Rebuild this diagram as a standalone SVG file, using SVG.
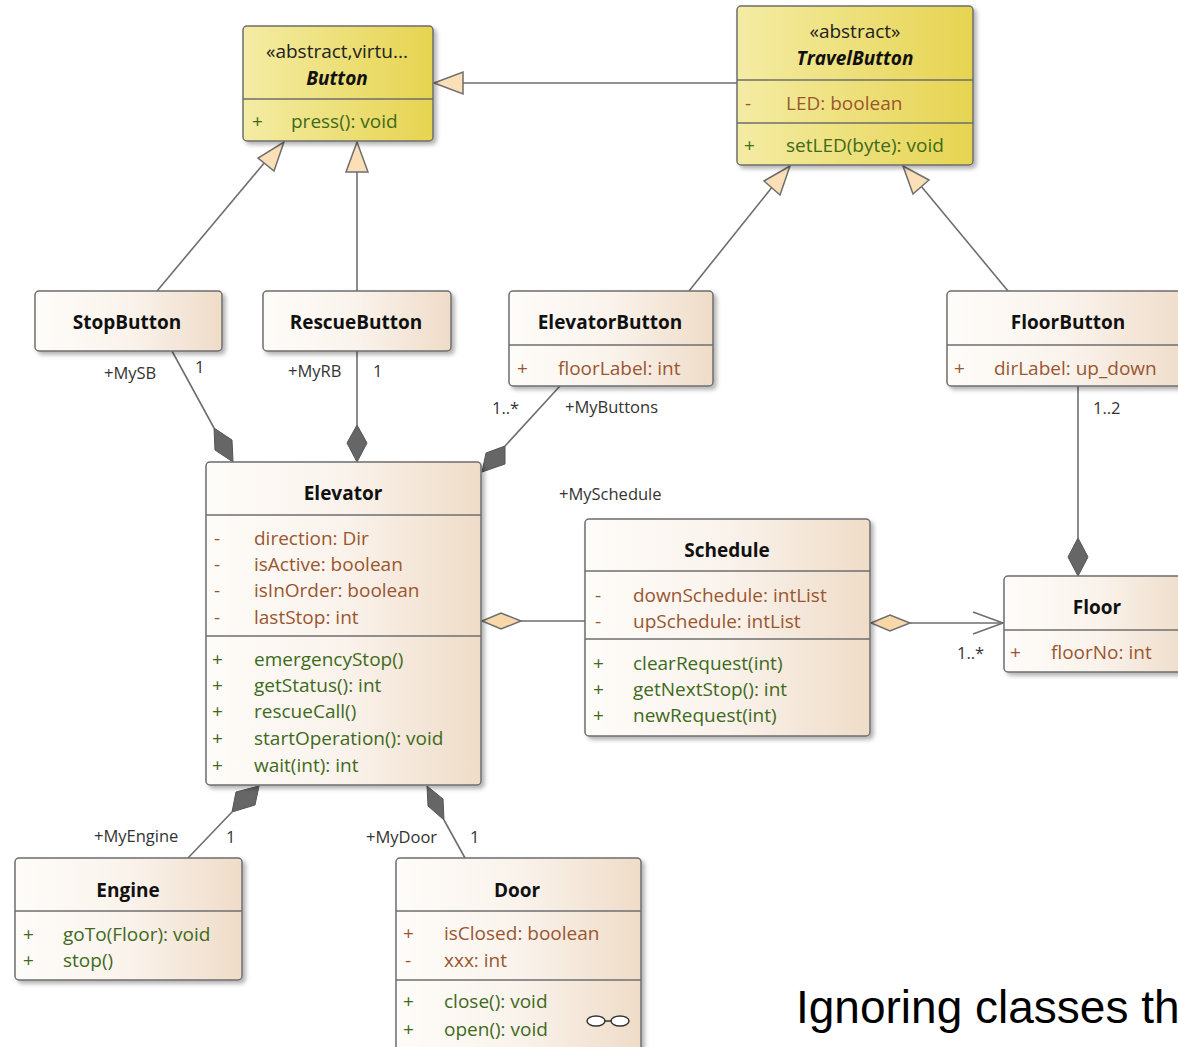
<svg xmlns="http://www.w3.org/2000/svg" width="1178" height="1047" viewBox="0 0 1178 1047">
  <style>
    .box { stroke: #6e6e6e; stroke-width: 1.5; filter: url(#shadow); }
    .cls { fill: url(#classFill); }
    .abs { fill: url(#absFill); }
    .sep { stroke: #6e6e6e; stroke-width: 1.5; }
    .title { font-family: "Open Sans", "Noto Sans", sans-serif; font-weight: bold; font-size: 19px; fill: #111; text-anchor: middle; }
    .stereo { font-family: "Open Sans", "Noto Sans", sans-serif; font-size: 19px; fill: #222; text-anchor: middle; }
    .attr { font-family: "Open Sans", "Noto Sans", sans-serif; font-size: 19px; fill: #9a5630; }
    .op { font-family: "Open Sans", "Noto Sans", sans-serif; font-size: 19px; fill: #3f6a1c; }
    .lbl { font-family: "Open Sans", "Noto Sans", sans-serif; font-size: 16.5px; fill: #333; }
    .edge { stroke: #6e6e6e; stroke-width: 1.6; fill: none; }
    .tri { fill: #fbdfb6; stroke: #6e6e6e; stroke-width: 1.5; }
    .dia { fill: #666; stroke: #555; stroke-width: 1; }
    .hdia { fill: #f8d8a8; stroke: #6e6e6e; stroke-width: 1.5; }
  </style>
  <defs>
    <linearGradient id="classFill" x1="0" y1="0" x2="1" y2="0">
      <stop offset="0" stop-color="#fefcf9"/>
      <stop offset="0.5" stop-color="#faf3ec"/>
      <stop offset="1" stop-color="#efdcc8"/>
    </linearGradient>
    <linearGradient id="absFill" x1="0" y1="0" x2="1" y2="0">
      <stop offset="0" stop-color="#f4eca4"/>
      <stop offset="1" stop-color="#e6d450"/>
    </linearGradient>
    <filter id="shadow" x="-5%" y="-5%" width="115%" height="120%">
      <feDropShadow dx="3" dy="3" stdDeviation="2" flood-color="#000" flood-opacity="0.3"/>
    </filter>
  </defs>

  <!-- connectors -->
  <g id="connectors">
    <!-- generalizations -->
    <line class="edge" x1="737" y1="83" x2="463" y2="83"/>
    <polygon class="tri" points="434,83 463,72 463,94"/>
    <line class="edge" x1="157" y1="291" x2="265" y2="162"/>
    <polygon class="tri" points="284,142 274,171 258,158"/>
    <line class="edge" x1="357" y1="291" x2="357" y2="172"/>
    <polygon class="tri" points="357,142 368,172 346,172"/>
    <line class="edge" x1="689" y1="291" x2="773" y2="186"/>
    <polygon class="tri" points="790,166 780,195 764,181"/>
    <line class="edge" x1="1008" y1="291" x2="921" y2="186"/>
    <polygon class="tri" points="903,166 929,180 913,194"/>

    <!-- compositions into Elevator -->
    <line class="edge" x1="172" y1="351" x2="214" y2="428"/>
    <polygon class="dia" points="233,462 232,440 214,428 215,450"/>
    <line class="edge" x1="357" y1="351" x2="357" y2="425"/>
    <polygon class="dia" points="357,462 367,443 357,425 347,443"/>
    <line class="edge" x1="560" y1="386" x2="505" y2="446"/>
    <polygon class="dia" points="482,472 505,464 505,446 486,453"/>

    <!-- FloorButton to Floor -->
    <line class="edge" x1="1078" y1="386" x2="1078" y2="538"/>
    <polygon class="dia" points="1078,576 1088,557 1078,538 1068,557"/>

    <!-- Elevator to Schedule aggregation -->
    <line class="edge" x1="521" y1="621" x2="585" y2="621"/>
    <polygon class="hdia" points="482,621 501,613 521,621 501,629"/>

    <!-- Schedule to Floor -->
    <line class="edge" x1="910" y1="623" x2="1003" y2="623"/>
    <polygon class="hdia" points="871,623 890,615 910,623 890,631"/>
    <polyline class="edge" points="973,612 1003,623 973,634"/>

    <!-- Elevator to Engine / Door -->
    <line class="edge" x1="188" y1="858" x2="232" y2="812"/>
    <polygon class="dia" points="259,786 236,792 232,812 255,805"/>
    <line class="edge" x1="465" y1="858" x2="444" y2="820"/>
    <polygon class="dia" points="427,786 428,806 444,820 443,799"/>

    <!-- role and multiplicity labels -->
    <text class="lbl" x="104" y="379">+MySB</text>
    <text class="lbl" x="195" y="373">1</text>
    <text class="lbl" x="288" y="377">+MyRB</text>
    <text class="lbl" x="373" y="377">1</text>
    <text class="lbl" x="492" y="414">1..*</text>
    <text class="lbl" x="565" y="413">+MyButtons</text>
    <text class="lbl" x="1093" y="414">1..2</text>
    <text class="lbl" x="559" y="500">+MySchedule</text>
    <text class="lbl" x="957" y="659">1..*</text>
    <text class="lbl" x="94" y="842">+MyEngine</text>
    <text class="lbl" x="226" y="843">1</text>
    <text class="lbl" x="366" y="843">+MyDoor</text>
    <text class="lbl" x="470" y="843">1</text>
  </g>

  <!-- Button -->
  <g id="Button">
    <rect class="box abs" x="243" y="26" width="190" height="115" rx="4"/>
    <line class="sep" x1="243" y1="99" x2="433" y2="99"/>
    <text class="stereo" x="337" y="58">«abstract,virtu...</text>
    <text class="title" x="337" y="85" font-style="italic">Button</text>
    <text class="op" x="252" y="128">+</text>
    <text class="op" x="291" y="128">press(): void</text>
  </g>

  <!-- TravelButton -->
  <g id="TravelButton">
    <rect class="box abs" x="737" y="6" width="236" height="159" rx="4"/>
    <line class="sep" x1="737" y1="80" x2="973" y2="80"/>
    <line class="sep" x1="737" y1="123" x2="973" y2="123"/>
    <text class="stereo" x="855" y="38">«abstract»</text>
    <text class="title" x="855" y="65" font-style="italic">TravelButton</text>
    <text class="attr" x="745" y="110">-</text>
    <text class="attr" x="786" y="110">LED: boolean</text>
    <text class="op" x="744" y="152">+</text>
    <text class="op" x="786" y="152">setLED(byte): void</text>
  </g>

  <!-- StopButton -->
  <g id="StopButton">
    <rect class="box cls" x="35" y="291" width="187" height="60" rx="4"/>
    <text class="title" x="127" y="329">StopButton</text>
  </g>

  <!-- RescueButton -->
  <g id="RescueButton">
    <rect class="box cls" x="263" y="291" width="188" height="60" rx="4"/>
    <text class="title" x="356" y="329">RescueButton</text>
  </g>

  <!-- ElevatorButton -->
  <g id="ElevatorButton">
    <rect class="box cls" x="509" y="291" width="204" height="95" rx="4"/>
    <line class="sep" x1="509" y1="345" x2="713" y2="345"/>
    <text class="title" x="610" y="329">ElevatorButton</text>
    <text class="attr" x="517" y="375">+</text>
    <text class="attr" x="558" y="375">floorLabel: int</text>
  </g>

  <!-- FloorButton -->
  <g id="FloorButton">
    <rect class="box cls" x="947" y="291" width="242" height="95" rx="4"/>
    <line class="sep" x1="947" y1="345" x2="1189" y2="345"/>
    <text class="title" x="1068" y="329">FloorButton</text>
    <text class="attr" x="954" y="375">+</text>
    <text class="attr" x="994" y="375">dirLabel: up_down</text>
  </g>

  <!-- Elevator -->
  <g id="Elevator">
    <rect class="box cls" x="206" y="462" width="275" height="323" rx="4"/>
    <line class="sep" x1="206" y1="515" x2="481" y2="515"/>
    <line class="sep" x1="206" y1="636" x2="481" y2="636"/>
    <text class="title" x="343" y="500">Elevator</text>
    <g class="attr">
      <text x="214" y="545">-</text><text x="254" y="545">direction: Dir</text>
      <text x="214" y="571">-</text><text x="254" y="571">isActive: boolean</text>
      <text x="214" y="597">-</text><text x="254" y="597">isInOrder: boolean</text>
      <text x="214" y="624">-</text><text x="254" y="624">lastStop: int</text>
    </g>
    <g class="op">
      <text x="212" y="666">+</text><text x="254" y="666">emergencyStop()</text>
      <text x="212" y="692">+</text><text x="254" y="692">getStatus(): int</text>
      <text x="212" y="718">+</text><text x="254" y="718">rescueCall()</text>
      <text x="212" y="745">+</text><text x="254" y="745">startOperation(): void</text>
      <text x="212" y="772">+</text><text x="254" y="772">wait(int): int</text>
    </g>
  </g>

  <!-- Schedule -->
  <g id="Schedule">
    <rect class="box cls" x="585" y="519" width="285" height="217" rx="4"/>
    <line class="sep" x1="585" y1="571" x2="870" y2="571"/>
    <line class="sep" x1="585" y1="639" x2="870" y2="639"/>
    <text class="title" x="727" y="557">Schedule</text>
    <g class="attr">
      <text x="595" y="602">-</text><text x="633" y="602">downSchedule: intList</text>
      <text x="595" y="628">-</text><text x="633" y="628">upSchedule: intList</text>
    </g>
    <g class="op">
      <text x="593" y="670">+</text><text x="633" y="670">clearRequest(int)</text>
      <text x="593" y="696">+</text><text x="633" y="696">getNextStop(): int</text>
      <text x="593" y="722">+</text><text x="633" y="722">newRequest(int)</text>
    </g>
  </g>

  <!-- Floor -->
  <g id="Floor">
    <rect class="box cls" x="1004" y="576" width="186" height="96" rx="4"/>
    <line class="sep" x1="1004" y1="630" x2="1190" y2="630"/>
    <text class="title" x="1097" y="614">Floor</text>
    <text class="attr" x="1010" y="659">+</text>
    <text class="attr" x="1051" y="659">floorNo: int</text>
  </g>

  <!-- Engine -->
  <g id="Engine">
    <rect class="box cls" x="15" y="858" width="227" height="122" rx="4"/>
    <line class="sep" x1="15" y1="911" x2="242" y2="911"/>
    <text class="title" x="128" y="897">Engine</text>
    <g class="op">
      <text x="23" y="941">+</text><text x="63" y="941">goTo(Floor): void</text>
      <text x="23" y="967">+</text><text x="63" y="967">stop()</text>
    </g>
  </g>

  <!-- Door -->
  <g id="Door">
    <rect class="box cls" x="396" y="858" width="245" height="200" rx="4"/>
    <line class="sep" x1="396" y1="911" x2="641" y2="911"/>
    <line class="sep" x1="396" y1="980" x2="641" y2="980"/>
    <text class="title" x="517" y="897">Door</text>
    <g class="attr">
      <text x="403" y="940">+</text><text x="444" y="940">isClosed: boolean</text>
      <text x="405" y="967">-</text><text x="444" y="967">xxx: int</text>
    </g>
    <g class="op">
      <text x="403" y="1008">+</text><text x="444" y="1008">close(): void</text>
      <text x="403" y="1036">+</text><text x="444" y="1036">open(): void</text>
    </g>
    <!-- composite-diagram glasses icon -->
    <g fill="#fff" stroke="#333" stroke-width="1.5">
      <ellipse cx="596" cy="1021" rx="9" ry="5"/>
      <ellipse cx="620" cy="1021" rx="9" ry="5"/>
      <line x1="605" y1="1021" x2="611" y2="1021"/>
    </g>
  </g>

  <!-- caption -->
  <text x="796" y="1023" font-family="Liberation Sans, Arial, sans-serif" font-size="46" fill="#000">Ignoring classes th</text>
</svg>
